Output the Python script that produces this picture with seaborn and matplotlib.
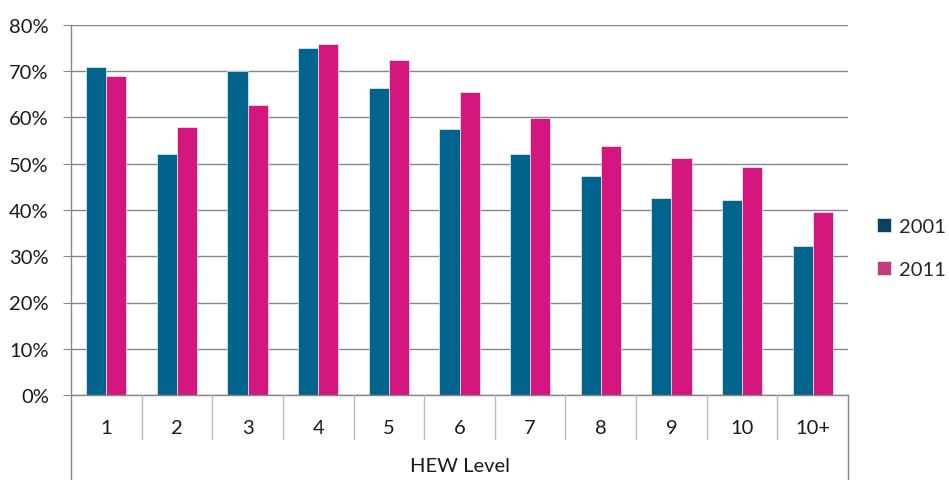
import pandas as pd
import numpy as np
import matplotlib.pyplot as plt
import seaborn as sns
from matplotlib.ticker import PercentFormatter

# dados
levels = ['1', '2', '3', '4', '5', '6', '7', '8', '9', '10', '10+']
pct_2001 = [70.9, 52.1, 70.0, 75.0, 66.3, 57.5, 52.1, 47.3, 42.7, 42.2, 32.2]
pct_2011 = [68.9, 57.9, 62.6, 76.0, 72.5, 65.5, 59.9, 53.9, 51.2, 49.3, 39.5]
years = ['2001', '2011']

df = pd.DataFrame({
    'level': levels * 2,
    'year': ['2001'] * len(levels) + ['2011'] * len(levels),
    'pct': np.array(pct_2001 + pct_2011) / 100,
})

sns.set_style('white')
plt.rcParams['font.family'] = ['Lato', 'DejaVu Sans']
grey = '#868686'
txt = '#1a1a1a'

fig = plt.figure(figsize=(9.49, 4.81), dpi=100)
ax = fig.add_axes([71 / 949, 85 / 481, 777 / 949, 370 / 481])

sns.barplot(data=df, x='level', y='pct', hue='year', order=levels, hue_order=years,
            palette=['#00648C', '#D4177F'], saturation=1, width=0.57,
            edgecolor='#e8f0f4', linewidth=0.5, ax=ax)

ax.set_ylim(0, 0.8)
ax.set_xlim(-0.5, len(levels) - 0.5)
ax.yaxis.set_major_formatter(PercentFormatter(1.0, decimals=0))
ax.set_yticks(np.arange(0, 0.81, 0.1))
ax.grid(axis='y', color=grey, linewidth=1)
ax.set_axisbelow(True)
for s in ['top', 'right', 'bottom', 'left']:
    ax.spines[s].set_visible(False)

ax.tick_params(axis='y', which='both', left=True, length=6, color=grey, pad=10,
               labelsize=14.5, labelcolor=txt)
ax.tick_params(axis='x', bottom=False, pad=14, labelsize=14.5, labelcolor=txt)
ax.set_xlabel('')
ax.set_ylabel('')

# eixo e separadores de categorias (estilo Excel)
tr = ax.get_xaxis_transform()
bottom = -85 / 370
ax.plot([-0.5, len(levels) - 0.5], [0, 0], color=grey, lw=1, transform=tr, clip_on=False)
for i in range(len(levels) + 1):
    x = i - 0.5
    y0 = bottom if i in (0, len(levels)) else -44 / 370
    ax.plot([x, x], [0, y0], color=grey if i in (0, len(levels)) else '#bbbbbb',
            lw=1, transform=tr, clip_on=False)
ax.plot([-0.5, -0.5], [0, 1], color=grey, lw=1, transform=tr, clip_on=False)
ax.text(0.5, -71 / 370, 'HEW Level', transform=ax.transAxes, ha='center', va='center',
        fontsize=14.5, color=txt)

handles, labels = ax.get_legend_handles_labels()
handles[0].set_facecolor('#0B4263')
handles[1].set_facecolor('#C43A80')
ax.legend(handles, labels, loc='center left', bbox_to_anchor=(1.014, 0.397), frameon=False,
          fontsize=14.5, handlelength=0.7, handleheight=0.7, labelspacing=1.3,
          handletextpad=0.4)

plt.savefig('out.png', dpi=100)
plt.close()
